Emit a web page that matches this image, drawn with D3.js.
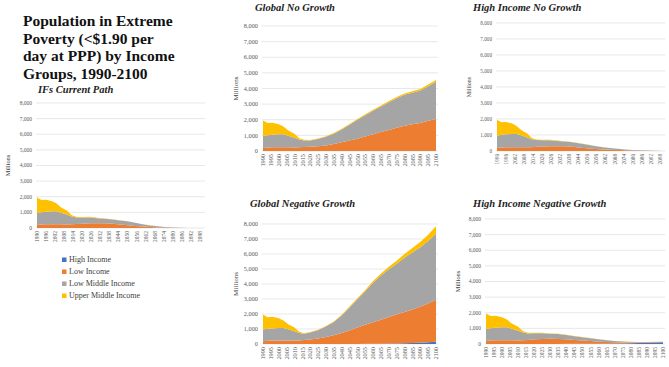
<!DOCTYPE html>
<html>
<head>
<meta charset="utf-8">
<script src="https://cdn.jsdelivr.net/npm/d3@7"></script>
<style>
body { margin: 0; background: #fff; }
svg text { font-family: "Liberation Serif", "DejaVu Serif", "Times New Roman", serif; }
.grid line { stroke: #d9d9d9; stroke-width: 0.6; }
.tick-label { fill: #595959; }
</style>
</head>
<body>
<svg id="chart" width="669" height="367"></svg>
<script>
// income groups, stacked bottom to top
let groups = ['High Income', 'Low Income', 'Low Middle Income', 'Upper Middle Income'];
let groupColors = ['#4472C4', '#ED7D31', '#A5A5A5', '#FFC000'];

// years: common history, then the projections
let histYears = [1990, 1993, 1996, 2000, 2003, 2006, 2010, 2013, 2016];
let projYears = [2020, 2025, 2030, 2035, 2040, 2045, 2050, 2055, 2060, 2065, 2070, 2075, 2080, 2085, 2090, 2095, 2100];

// history (millions)
let histHigh = [0, 0, 0, 0, 0, 0, 0, 0, 0];
let histLow = [190, 220, 240, 240, 240, 240, 230, 240, 260];
let histLowMid = [770, 790, 800, 830, 830, 740, 620, 500, 420];
let histUpperMid = [1000, 780, 770, 650, 500, 330, 250, 80, 40];

// IFs Current Path
let currentHigh = [0, 0, 0, 0, 0, 0, 0, 0, 0, 0, 0, 0, 0, 0, 0, 0, 0];
let currentLow = [280, 300, 310, 300, 280, 230, 180, 130, 90, 60, 40, 25, 12, 5, 1, 0, 0];
let currentLowMid = [390, 380, 320, 285, 260, 255, 250, 200, 145, 105, 65, 45, 20, 10, 2, 0, 0];
let currentUpperMid = [30, 40, 30, 25, 20, 15, 10, 8, 5, 4, 3, 2, 1, 1, 0, 0, 0];

// Global No Growth
let globalNoHigh = [0, 0, 0, 0, 0, 0, 0, 0, 0, 0, 0, 0, 0, 0, 0, 0, 0];
let globalNoLow = [270, 310, 360, 450, 560, 670, 780, 930, 1070, 1210, 1350, 1490, 1620, 1710, 1800, 1930, 2050];
let globalNoLowMid = [400, 460, 555, 660, 815, 1010, 1215, 1360, 1505, 1640, 1775, 1880, 1975, 2020, 2075, 2220, 2390];
let globalNoUpperMid = [30, 30, 35, 40, 45, 50, 55, 60, 65, 70, 75, 80, 85, 90, 95, 100, 110];

// High Income No Growth
let highNoHigh = [0, 0, 0, 0, 0, 0, 0, 0, 0, 0, 0, 0, 0, 0, 0, 0, 0];
let highNoLow = [280, 300, 300, 290, 260, 210, 170, 130, 100, 75, 55, 40, 30, 20, 12, 6, 2];
let highNoLowMid = [390, 370, 325, 300, 280, 255, 220, 180, 140, 110, 80, 55, 35, 28, 17, 8, 3];
let highNoUpperMid = [30, 30, 25, 20, 20, 15, 12, 10, 8, 6, 5, 4, 3, 2, 1, 1, 0];

// Global Negative Growth
let globalNegHigh = [0, 0, 0, 0, 0, 0, 0, 20, 25, 25, 30, 35, 50, 60, 90, 120, 150];
let globalNegLow = [300, 370, 470, 580, 730, 900, 1100, 1260, 1425, 1595, 1770, 1935, 2080, 2240, 2390, 2580, 2800];
let globalNegLowMid = [470, 550, 695, 880, 1170, 1540, 1880, 2230, 2640, 2950, 3190, 3380, 3620, 3800, 3970, 4160, 4400];
let globalNegUpperMid = [30, 30, 35, 40, 50, 60, 70, 90, 110, 130, 160, 200, 250, 300, 350, 420, 500];

// High Income Negative Growth
let highNegHigh = [0, 0, 0, 0, 10, 12, 15, 18, 20, 25, 30, 40, 50, 60, 70, 90, 110];
let highNegLow = [300, 320, 330, 320, 290, 250, 210, 170, 130, 100, 75, 60, 45, 40, 35, 30, 25];
let highNegLowMid = [390, 370, 325, 315, 280, 238, 210, 180, 150, 117, 89, 65, 41, 26, 21, 16, 11];
let highNegUpperMid = [30, 30, 25, 25, 20, 20, 15, 12, 10, 8, 6, 5, 4, 4, 4, 4, 4];

// tick labels
let yTicks = [0, 1000, 2000, 3000, 4000, 5000, 6000, 7000, 8000];
let xTicksSix = [1990, 1996, 2002, 2008, 2014, 2020, 2026, 2032, 2038, 2044, 2050, 2056, 2062, 2068, 2074, 2080, 2086, 2092, 2098];
let xTicksFive = [1990, 1995, 2000, 2005, 2010, 2015, 2020, 2025, 2030, 2035, 2040, 2045, 2050, 2055, 2060, 2065, 2070, 2075, 2080, 2085, 2090, 2095, 2100];

let mainTitle = ['Population in Extreme', 'Poverty (<$1.90 per', 'day at PPP) by Income', 'Groups, 1990-2100'];

let scenarios = [
  {title: 'IFs Current Path', data: [currentHigh, currentLow, currentLowMid, currentUpperMid]},
  {title: 'Global No Growth', data: [globalNoHigh, globalNoLow, globalNoLowMid, globalNoUpperMid]},
  {title: 'High Income No Growth', data: [highNoHigh, highNoLow, highNoLowMid, highNoUpperMid]},
  {title: 'Global Negative Growth', data: [globalNegHigh, globalNegLow, globalNegLowMid, globalNegUpperMid]},
  {title: 'High Income Negative Growth', data: [highNegHigh, highNegLow, highNegLowMid, highNegUpperMid]}
];

// where each little chart sits on the page
let layout = [
  {x0: 37, x1: 203, yTop: 103, yBot: 228, ticks: xTicksSix, fs: 5.5, titleX: 38, titleY: 93, millionsX: 10},
  {x0: 263, x1: 436, yTop: 26, yBot: 151, ticks: xTicksFive, fs: 6.3, titleX: 255, titleY: 11, millionsX: 238},
  {x0: 497, x1: 663, yTop: 23, yBot: 151, ticks: xTicksSix, fs: 5.2, titleX: 473, titleY: 11, millionsX: 471},
  {x0: 263, x1: 436, yTop: 224, yBot: 344, ticks: xTicksFive, fs: 6.3, titleX: 250, titleY: 207, millionsX: 238},
  {x0: 486, x1: 663, yTop: 219, yBot: 344, ticks: xTicksFive, fs: 5.5, titleX: 473, titleY: 207, millionsX: 460}
];

let svg = d3.select('#chart');
let years = histYears.concat(projYears);
let stack = d3.stack().keys(groups);

scenarios.forEach((sc, i) => {
  let L = layout[i];
  let rows = years.map((yr, j) => {
    let row = {year: yr};
    groups.forEach((g, k) => {
      let hist = [histHigh, histLow, histLowMid, histUpperMid][k];
      row[g] = j < histYears.length ? hist[j] : sc.data[k][j - histYears.length];
    });
    return row;
  });

  let xScale = d3.scaleLinear().domain([1990, 2100]).range([L.x0, L.x1]);
  let yScale = d3.scaleLinear().domain([0, 8000]).range([L.yBot, L.yTop]);
  let g = svg.append('g');

  // gridlines
  g.append('g').attr('class', 'grid')
    .selectAll('line')
    .data(yTicks)
    .enter()
    .append('line')
    .attr('x1', L.x0 - 1)
    .attr('x2', L.x1 + 2)
    .attr('y1', d => yScale(d))
    .attr('y2', d => yScale(d));

  // stacked areas
  let area = d3.area()
    .x(d => xScale(d.data.year))
    .y0(d => yScale(d[0]))
    .y1(d => yScale(d[1]));
  g.append('g')
    .selectAll('path')
    .data(stack(rows))
    .enter()
    .append('path')
    .attr('d', area)
    .attr('fill', (d, k) => groupColors[k]);

  // y labels
  g.append('g')
    .selectAll('text')
    .data(yTicks)
    .enter()
    .append('text')
    .attr('class', 'tick-label')
    .attr('x', L.x0 - 5)
    .attr('y', d => yScale(d) + L.fs * 0.35)
    .attr('text-anchor', 'end')
    .attr('font-size', L.fs + 'px')
    .text(d => d3.format(',')(d));

  // x labels, turned
  g.append('g')
    .selectAll('text')
    .data(L.ticks)
    .enter()
    .append('text')
    .attr('class', 'tick-label')
    .attr('transform', d => `translate(${xScale(d) + L.fs * 0.35},${L.yBot + 3}) rotate(-90)`)
    .attr('text-anchor', 'end')
    .attr('font-size', L.fs + 'px')
    .text(d => d);

  g.append('text')
    .attr('transform', `translate(${L.millionsX},${(L.yTop + L.yBot) / 2}) rotate(-90)`)
    .attr('text-anchor', 'middle')
    .attr('font-size', (L.fs + 0.8) + 'px')
    .attr('fill', '#404040')
    .text('Millions');

  g.append('text')
    .attr('x', L.titleX)
    .attr('y', L.titleY)
    .attr('font-size', '10.5px')
    .attr('font-weight', 'bold')
    .attr('font-style', 'italic')
    .attr('fill', '#222')
    .text(sc.title);
});

// main title
svg.append('g')
  .selectAll('text')
  .data(mainTitle)
  .enter()
  .append('text')
  .attr('x', 23)
  .attr('y', (d, i) => 26 + i * 17.7)
  .attr('font-size', '15.5px')
  .attr('font-weight', 'bold')
  .attr('fill', '#111')
  .text(d => d);

// legend
let legend = svg.append('g')
  .selectAll('g')
  .data(groups)
  .enter()
  .append('g')
  .attr('transform', (d, i) => `translate(62,${262 + i * 12})`);
legend.append('rect')
  .attr('x', 0).attr('y', -4.5)
  .attr('width', 4.5).attr('height', 4.5)
  .attr('fill', (d, i) => groupColors[i]);
legend.append('text')
  .attr('x', 7)
  .attr('y', 0)
  .attr('font-size', '8px')
  .attr('fill', '#404040')
  .text(d => d);
</script>
</body>
</html>
